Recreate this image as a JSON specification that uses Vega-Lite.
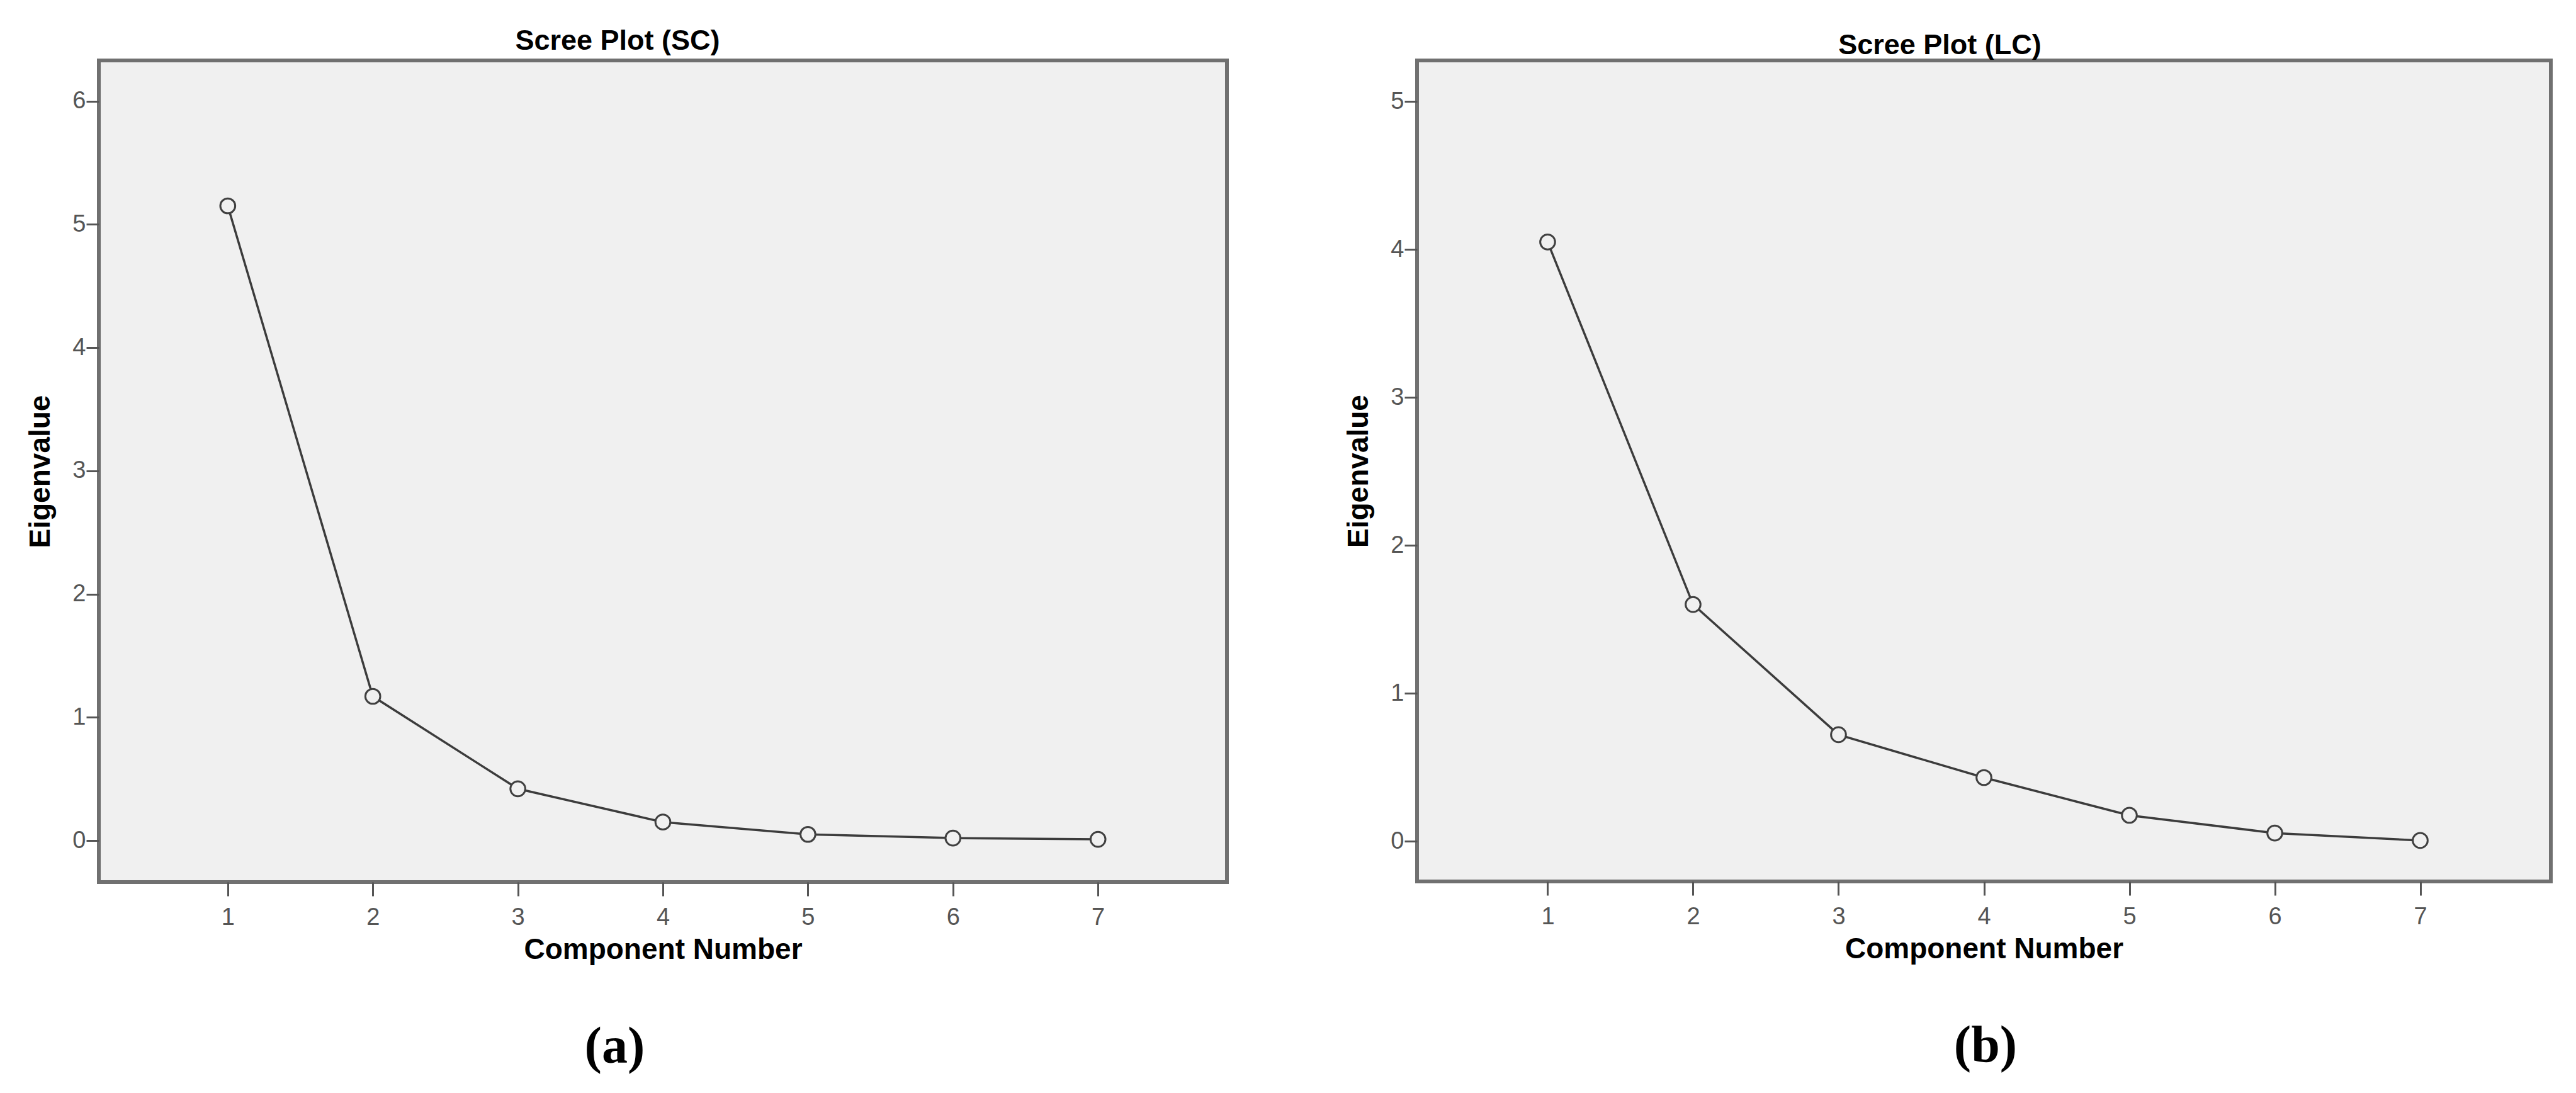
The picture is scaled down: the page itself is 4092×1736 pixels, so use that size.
{
  "$schema": "https://vega.github.io/schema/vega-lite/v6.json",
  "background": "white",
  "padding": {"left": 38, "top": 40, "right": 0, "bottom": 50},
  "datasets": {
    "sc": [
      {"component": 1, "eigenvalue": 5.15},
      {"component": 2, "eigenvalue": 1.17},
      {"component": 3, "eigenvalue": 0.42},
      {"component": 4, "eigenvalue": 0.15},
      {"component": 5, "eigenvalue": 0.05},
      {"component": 6, "eigenvalue": 0.02},
      {"component": 7, "eigenvalue": 0.01}
    ],
    "lc": [
      {"component": 1, "eigenvalue": 4.05},
      {"component": 2, "eigenvalue": 1.6},
      {"component": 3, "eigenvalue": 0.72},
      {"component": 4, "eigenvalue": 0.43},
      {"component": 5, "eigenvalue": 0.175},
      {"component": 6, "eigenvalue": 0.055},
      {"component": 7, "eigenvalue": 0.005}
    ]
  },
  "config": {
    "view": {"fill": "#f0f0f0", "stroke": "#707070", "strokeWidth": 6},
    "axis": {
      "grid": false, "domain": false, "ticks": true,
      "tickColor": "#555555", "tickWidth": 3,
      "labelFont": "Liberation Sans", "labelFontSize": 38, "labelColor": "#555555",
      "titleFont": "Liberation Sans", "titleFontSize": 46, "titleFontWeight": "bold", "titleColor": "#000000"
    },
    "axisX": {"tickSize": 22, "labelPadding": 15, "titlePadding": 10},
    "axisY": {"tickSize": 20, "labelPadding": 1, "titlePadding": 26},
    "title": {"font": "Liberation Sans", "fontSize": 45, "fontWeight": "bold", "color": "#000000"}
  },
  "spacing": 180,
  "align": "none",
  "hconcat": [
    {
      "title": {"text": "(a)", "orient": "bottom", "font": "Liberation Serif", "fontSize": 82, "fontWeight": "bold", "baseline": "alphabetic", "offset": 154, "anchor": "middle", "frame": "bounds", "dx": -19},
      "vconcat": [
        {
          "title": {"text": "Scree Plot (SC)", "anchor": "middle", "frame": "group", "dx": -72, "baseline": "alphabetic", "offset": -28},
          "width": 1792,
          "height": 1305,
          "data": {"name": "sc"},
          "encoding": {
            "x": {"field": "component", "type": "quantitative",
                  "scale": {"domain": [0.111, 7.889], "nice": false, "zero": false},
                  "axis": {"values": [1, 2, 3, 4, 5, 6, 7], "format": "d", "title": "Component Number"}},
            "y": {"field": "eigenvalue", "type": "quantitative",
                  "scale": {"domain": [-0.337, 6.33], "nice": false, "zero": false},
                  "axis": {"values": [0, 1, 2, 3, 4, 5, 6], "format": "d", "title": "Eigenvalue"}}
          },
          "layer": [
            {"mark": {"type": "line", "color": "#3c3c3c", "strokeWidth": 3.5}},
            {"mark": {"type": "point", "shape": "circle", "filled": true, "fill": "#f0f0f0", "stroke": "#404040", "strokeWidth": 3, "size": 560, "opacity": 1}}
          ]
        }
      ]
    },
    {
      "title": {"text": "(b)", "orient": "bottom", "font": "Liberation Serif", "fontSize": 82, "fontWeight": "bold", "baseline": "alphabetic", "offset": 153, "anchor": "middle", "frame": "bounds", "dx": 60},
      "vconcat": [
        {
          "title": {"text": "Scree Plot (LC)", "anchor": "middle", "frame": "group", "dx": -70, "baseline": "alphabetic", "offset": -35},
          "width": 1801,
          "height": 1304,
          "data": {"name": "lc"},
          "encoding": {
            "x": {"field": "component", "type": "quantitative",
                  "scale": {"domain": [0.102, 7.898], "nice": false, "zero": false},
                  "axis": {"values": [1, 2, 3, 4, 5, 6, 7], "format": "d", "title": "Component Number"}},
            "y": {"field": "eigenvalue", "type": "quantitative",
                  "scale": {"domain": [-0.272, 5.277], "nice": false, "zero": false},
                  "axis": {"values": [0, 1, 2, 3, 4, 5], "format": "d", "title": "Eigenvalue"}}
          },
          "layer": [
            {"mark": {"type": "line", "color": "#3c3c3c", "strokeWidth": 3.5}},
            {"mark": {"type": "point", "shape": "circle", "filled": true, "fill": "#f0f0f0", "stroke": "#404040", "strokeWidth": 3, "size": 560, "opacity": 1}}
          ]
        }
      ]
    }
  ]
}
